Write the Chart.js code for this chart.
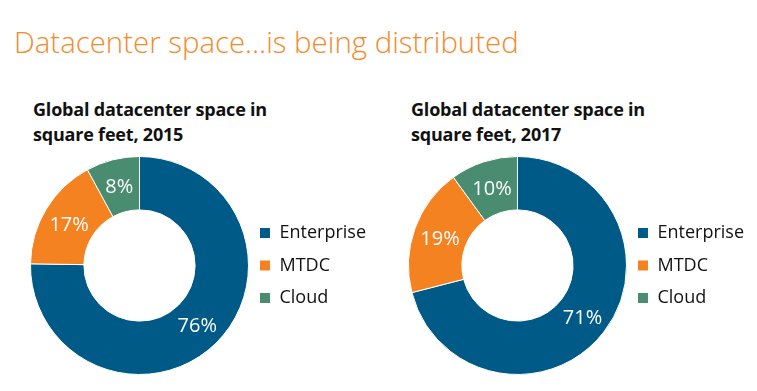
<!DOCTYPE html>
<html>
<head>
<meta charset="utf-8">
<script src="https://cdn.jsdelivr.net/npm/chart.js@4.4.1/dist/chart.umd.min.js"></script>
<style>
  html, body { margin: 0; padding: 0; background: #fff; }
  body { width: 757px; height: 391px; position: relative; overflow: hidden; font-family: 'Open Sans', 'Noto Sans', sans-serif; }
  .heading { position: absolute; left: 14px; top: 22px; font-size: 29.4px; font-weight: 300; color: #F58A2B; white-space: nowrap; }
  .subtitle { position: absolute; top: 97px; font-size: 18px; font-weight: 700; line-height: 25px; color: #111; letter-spacing: -0.2px; }
  .box { position: absolute; top: 146px; width: 381px; height: 245px; }
</style>
</head>
<body>
<div class="heading">Datacenter space…is being distributed</div>
<div class="subtitle" style="left:33px">Global datacenter space in<br>square feet, 2015</div>
<div class="subtitle" style="left:411px">Global datacenter space in<br>square feet, 2017</div>
<div class="box" style="left:0"><canvas id="chart2015"></canvas></div>
<div class="box" style="left:378px"><canvas id="chart2017"></canvas></div>
<script>
// Data
const categories = ['Enterprise', 'MTDC', 'Cloud'];
const share2015 = [76, 17, 8];
const share2017 = [71, 19, 10];
const sliceColors = ['#005A88', '#F58220', '#4A8C70'];

// Draw the percentage on each slice
const sliceLabels = {
    id: 'sliceLabels',
    afterDatasetsDraw(chart) {
        const ctx = chart.ctx;
        const meta = chart.getDatasetMeta(0);
        const values = chart.data.datasets[0].data;
        ctx.save();
        ctx.fillStyle = '#ffffff';
        ctx.font = '20px "Open Sans", "Noto Sans", sans-serif';
        ctx.textAlign = 'center';
        ctx.textBaseline = 'middle';
        meta.data.forEach(function(arc, i) {
            const pos = arc.tooltipPosition();
            ctx.fillText(values[i] + '%', pos.x, pos.y + 2);
        });
        ctx.restore();
    }
};

// Pull the legend a little closer to the ring
const legendNudge = {
    id: 'legendNudge',
    afterLayout(chart) {
        chart.legend.left -= 5;
        chart.legend.right -= 5;
    }
};

function makeDonut(id, values) {
    const ctx = document.getElementById(id).getContext('2d');
    return new Chart(ctx, {
        type: 'doughnut',
        data: {
            labels: categories,
            datasets: [{
                data: values,
                backgroundColor: sliceColors,
                borderColor: '#ffffff',
                borderWidth: 1
            }]
        },
        options: {
            responsive: true,
            maintainAspectRatio: false,
            animation: false,
            cutout: '51%',
            layout: {
                padding: { left: 29, top: 10, bottom: 16, right: 0 }
            },
            plugins: {
                legend: {
                    position: 'right',
                    labels: {
                        boxWidth: 11,
                        boxHeight: 11,
                        padding: 14.5,
                        color: '#111',
                        font: { family: '"Open Sans", "Noto Sans", sans-serif', size: 18 }
                    }
                },
                tooltip: { enabled: false }
            }
        },
        plugins: [sliceLabels, legendNudge]
    });
}

makeDonut('chart2015', share2015);
makeDonut('chart2017', share2017);
</script>
</body>
</html>
